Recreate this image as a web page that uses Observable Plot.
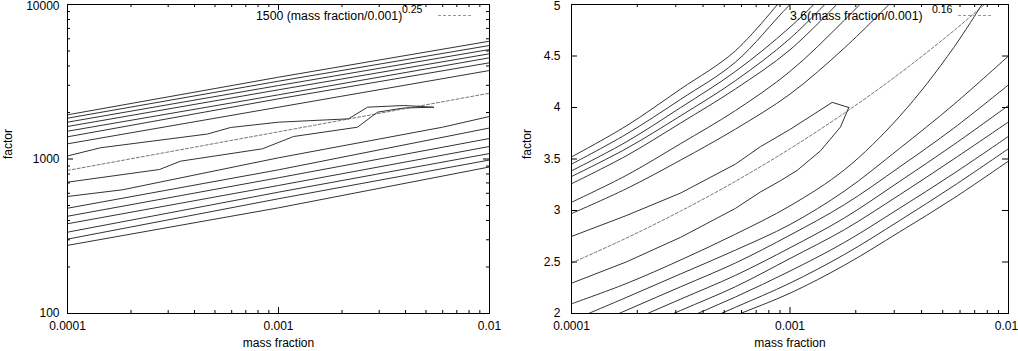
<!DOCTYPE html>
<html><head><meta charset="utf-8">
<script src="https://cdn.jsdelivr.net/npm/d3@7"></script>
<script src="https://cdn.jsdelivr.net/npm/@observablehq/plot@0.6"></script>
<style>
body{margin:0;background:#fff;}
#wrap{position:relative;width:1018px;height:351px;font-family:"Liberation Sans",Arial,sans-serif;overflow:hidden;}
#wrap svg.plot{position:absolute;top:0;}
#legend{position:absolute;left:0;top:0;pointer-events:none;}
</style></head><body><div id="wrap"></div>
<script>
// ---------- data: left panel (log-log) ----------
const leftXTicks = [1e-4, 1e-3, 1e-2];
const leftXTickLabels = ["0.0001", "0.001", "0.01"];
const leftYTicks = [100, 1000, 10000];
const leftYTickLabels = ["100", "1000", "10000"];

const leftLines = [
  [[1e-4,1932],[1e-3,3384],[1e-2,5787]],
  [[1e-4,1837],[1e-3,3189],[1e-2,5428]],
  [[1e-4,1731],[1e-3,2990],[1e-2,5113]],
  [[1e-4,1623],[1e-3,2805],[1e-2,4797]],
  [[1e-4,1513],[1e-3,2603],[1e-2,4519]],
  [[1e-4,1392],[1e-3,2453],[1e-2,4195]],
  [[1e-4,1254],[1e-3,2164],[1e-2,3739]],
  [[1e-4,1046],[1.433e-4,1182],[4.608e-4,1451],[5.924e-4,1599],[1e-3,1731],[2.147e-3,1820],[2.641e-3,2164],[3.913e-3,2220],[5.427e-3,2164]],
  [[1e-4,708],[2.729e-4,855],[3.431e-4,968],[8.396e-4,1164],[1.178e-3,1398],[2.368e-3,1606],[2.945e-3,2009],[3.913e-3,2138],[5.427e-3,2164]],
  [[1e-4,572],[1.823e-4,632],[1e-3,1018],[5.988e-3,1606],[1e-2,1884]],
  [[1e-4,480],[1e-3,851],[1e-2,1587]],
  [[1e-4,426],[1e-3,756],[1e-2,1357]],
  [[1e-4,381],[1e-3,674],[1e-2,1205]],
  [[1e-4,336],[1e-3,610],[1e-2,1085]],
  [[1e-4,303],[1e-3,553],[1e-2,985]],
  [[1e-4,276],[1e-3,483],[1e-2,888]]
];
const leftFit = [[1e-4,843.5],[1e-2,2667]];
const leftFitLabel = "1500 (mass fraction/0.001)";
const leftFitExp = "0.25";

// ---------- data: right panel (log x, linear y) ----------
const rightYTicks = [2, 2.5, 3, 3.5, 4, 4.5, 5];
const rightYTickLabels = ["2", "2.5", "3", "3.5", "4", "4.5", "5"];
const rightGridX = [1e-4, 1.778e-4, 3.162e-4, 5.623e-4, 1e-3, 1.778e-3, 3.162e-3, 5.623e-3, 1e-2];
const rightCurves = [
  [3.52, 3.82, 4.18, 4.55, 5.15],
  [3.45, 3.74, 4.08, 4.44, 5.0, 5.5],
  [3.385, 3.665, 4.0, 4.35, 4.78, 5.3],
  [3.33, 3.6, 3.92, 4.26, 4.67, 5.2],
  [3.26, 3.53, 3.85, 4.18, 4.56, 5.08],
  [3.08, 3.34, 3.65, 3.97, 4.35, 4.85, 5.4],
  [2.97, 3.21, 3.49, 3.79, 4.13, 4.58, 5.1],
  [2.094, 2.29, 2.52, 2.77, 3.045, 3.397, 3.91, 4.584, 5.42],
  [1.93, 2.155, 2.385, 2.615, 2.864, 3.19, 3.6, 4.03, 4.5],
  [1.8, 2.03, 2.26, 2.49, 2.761, 3.058, 3.42, 3.8, 4.22],
  [1.68, 1.91, 2.14, 2.37, 2.638, 2.929, 3.28, 3.64, 4.02],
  [1.57, 1.8, 2.03, 2.26, 2.534, 2.815, 3.15, 3.5, 3.86],
  [1.47, 1.7, 1.93, 2.16, 2.412, 2.691, 3.02, 3.36, 3.72],
  [1.37, 1.6, 1.83, 2.06, 2.295, 2.574, 2.9, 3.24, 3.6],
  [1.3, 1.53, 1.76, 1.98, 2.197, 2.47, 2.79, 3.12, 3.48]
];
const rightLoopUpper = [[1e-4,2.748],[1.778e-4,2.95],[3.162e-4,3.17],[5.623e-4,3.45],[7.328e-4,3.62],[1.005e-3,3.79],[1.560e-3,4.05],[1.858e-3,4.0]];
const rightLoopLower = [[1e-4,2.294],[1.778e-4,2.5],[3.162e-4,2.74],[5.623e-4,3.02],[7.328e-4,3.18],[9.057e-4,3.29],[1.079e-3,3.39],[1.380e-3,3.58],[1.702e-3,3.81],[1.858e-3,4.0]];
const rightFit = [2.490, 2.731, 2.995, 3.283, 3.6, 3.947, 4.328, 4.746, 5.204];
const rightFitLabel = "3.6(mass fraction/0.001)";
const rightFitExp = "0.16";

const xTitle = "mass fraction";
const yTitle = "factor";

// ---------- helpers ----------
const FONT = "Liberation Sans, Arial, sans-serif";
const H = 351, MT = 4, MB = 38, FH = H - MT - MB;
function minorLog(lo, hi) {
  const out = [];
  for (let e = Math.round(Math.log10(lo)); e < Math.round(Math.log10(hi)); e++)
    for (let k = 2; k < 10; k++) out.push(k * Math.pow(10, e));
  return out;
}
function ticks(FW, xMaj, xMin, yMaj, yMin) {
  const m = [];
  const big = 6, small = 3;
  m.push(Plot.tickX(xMaj, {x: d => d, insetTop: FH - big, stroke: "#000"}));
  m.push(Plot.tickX(xMaj, {x: d => d, insetBottom: FH - big, stroke: "#000"}));
  m.push(Plot.tickX(xMin, {x: d => d, insetTop: FH - small, stroke: "#000"}));
  m.push(Plot.tickX(xMin, {x: d => d, insetBottom: FH - small, stroke: "#000"}));
  m.push(Plot.tickY(yMaj, {y: d => d, insetRight: FW - big, stroke: "#000"}));
  m.push(Plot.tickY(yMaj, {y: d => d, insetLeft: FW - big, stroke: "#000"}));
  if (yMin.length) {
    m.push(Plot.tickY(yMin, {y: d => d, insetRight: FW - small, stroke: "#000"}));
    m.push(Plot.tickY(yMin, {y: d => d, insetLeft: FW - small, stroke: "#000"}));
  }
  return m;
}
// y tick labels: the top one is nudged down so it stays inside the picture
function yLabels(vals, labels, pad) {
  const fmt = d => labels[vals.indexOf(d)];
  const top = vals[vals.length - 1];
  return [
    Plot.axisY(vals.filter(d => d !== top), {tickSize: 0, tickPadding: pad, label: null, fontSize: 12, tickFormat: fmt}),
    Plot.axisY([top], {tickSize: 0, tickPadding: pad, label: null, fontSize: 12, tickFormat: fmt, dy: 1.5})
  ];
}
function xLabels(vals, labels, lastDx) {
  const fmt = d => labels[vals.indexOf(d)];
  const last = vals[vals.length - 1];
  return [
    Plot.axisX(vals.filter(d => d !== last), {tickSize: 0, tickPadding: 8, label: null, fontSize: 12, tickFormat: fmt}),
    Plot.axisX([last], {tickSize: 0, tickPadding: 8, label: null, fontSize: 12, tickFormat: fmt, dx: lastDx})
  ];
}
const wrap = document.getElementById("wrap");

// ---------- left panel ----------
{
  const W = 509, ML = 67, MR = 20, FW = W - ML - MR;
  const rows = leftLines.flatMap((pts, id) => pts.map(([x, y]) => ({x, y, id})));
  const fitRows = leftFit.map(([x, y]) => ({x, y}));
  const svg = Plot.plot({
    width: W, height: H, marginLeft: ML, marginRight: MR, marginTop: MT, marginBottom: MB,
    style: {fontFamily: FONT, fontSize: "12px", background: "transparent", color: "#000"},
    x: {type: "log", domain: [1e-4, 1e-2]},
    y: {type: "log", domain: [100, 10000]},
    marks: [
      Plot.line(fitRows, {x: "x", y: "y", stroke: "#777", strokeWidth: 1, strokeDasharray: "3,2"}),
      Plot.line(rows, {x: "x", y: "y", z: "id", stroke: "#333", strokeWidth: 1}),
      Plot.frame({stroke: "#000"}),
      ...ticks(FW, leftXTicks, minorLog(1e-4, 1e-2), leftYTicks, minorLog(100, 10000)),
      ...xLabels(leftXTicks, leftXTickLabels, 0),
      ...yLabels(leftYTicks, leftYTickLabels, 8),
      Plot.text([xTitle], {frameAnchor: "bottom", dy: 33, text: d => d, fontSize: 12}),
      Plot.text([yTitle], {frameAnchor: "left", dx: -59, rotate: -90, text: d => d, fontSize: 12})
    ]
  });
  svg.classList.add("plot");
  svg.style.left = "0px";
  wrap.appendChild(svg);
}

// ---------- right panel ----------
{
  const W = 509, ML = 62, MR = 10, FW = W - ML - MR;
  const rows = rightCurves.flatMap((vals, id) => vals.map((y, i) => ({x: rightGridX[i], y, id})));
  const loopRows = [rightLoopUpper, rightLoopLower].flatMap((pts, id) => pts.map(([x, y]) => ({x, y, id})));
  const fitRows = rightFit.map((y, i) => ({x: rightGridX[i], y}));
  const svg = Plot.plot({
    width: W, height: H, marginLeft: ML, marginRight: MR, marginTop: MT, marginBottom: MB,
    style: {fontFamily: FONT, fontSize: "12px", background: "transparent", color: "#000"},
    x: {type: "log", domain: [1e-4, 1e-2]},
    y: {type: "linear", domain: [2, 5]},
    marks: [
      Plot.line(fitRows, {x: "x", y: "y", stroke: "#777", strokeWidth: 1, strokeDasharray: "3,2", curve: "catmull-rom", clip: true}),
      Plot.line(rows, {x: "x", y: "y", z: "id", stroke: "#333", strokeWidth: 1, curve: "catmull-rom", clip: true}),
      Plot.line(loopRows, {x: "x", y: "y", z: "id", stroke: "#333", strokeWidth: 1, clip: true}),
      Plot.frame({stroke: "#000"}),
      ...ticks(FW, leftXTicks, minorLog(1e-4, 1e-2), rightYTicks, []),
      ...xLabels(leftXTicks, leftXTickLabels, -2),
      ...yLabels(rightYTicks, rightYTickLabels, 11),
      Plot.text([xTitle], {frameAnchor: "bottom", dy: 33, text: d => d, fontSize: 12}),
      Plot.text([yTitle], {frameAnchor: "left", dx: -44, rotate: -90, text: d => d, fontSize: 12})
    ]
  });
  svg.classList.add("plot");
  svg.style.left = "509px";
  wrap.appendChild(svg);
}

// ---------- legends (key entries inside each panel) ----------
{
  const ns = "http://www.w3.org/2000/svg";
  const svg = document.createElementNS(ns, "svg");
  svg.setAttribute("id", "legend");
  svg.setAttribute("width", 1018); svg.setAttribute("height", 351);
  svg.style.fontFamily = FONT;
  const entries = [
    {label: leftFitLabel, exp: leftFitExp, tx: 256, ex: 402, l1: 438, l2: 473},
    {label: rightFitLabel, exp: rightFitExp, tx: 790, ex: 932, l1: 958, l2: 993}
  ];
  for (const e of entries) {
    const t = document.createElementNS(ns, "text");
    t.setAttribute("x", e.tx); t.setAttribute("y", 19.5); t.setAttribute("font-size", 12.3);
    t.textContent = e.label; svg.appendChild(t);
    const s = document.createElementNS(ns, "text");
    s.setAttribute("x", e.ex); s.setAttribute("y", 13); s.setAttribute("font-size", 10.5);
    s.textContent = e.exp; svg.appendChild(s);
    const l = document.createElementNS(ns, "line");
    l.setAttribute("x1", e.l1); l.setAttribute("x2", e.l2);
    l.setAttribute("y1", 15.5); l.setAttribute("y2", 15.5);
    l.setAttribute("stroke", "#999"); l.setAttribute("stroke-dasharray", "3,2");
    svg.appendChild(l);
  }
  wrap.appendChild(svg);
}
</script></body></html>
